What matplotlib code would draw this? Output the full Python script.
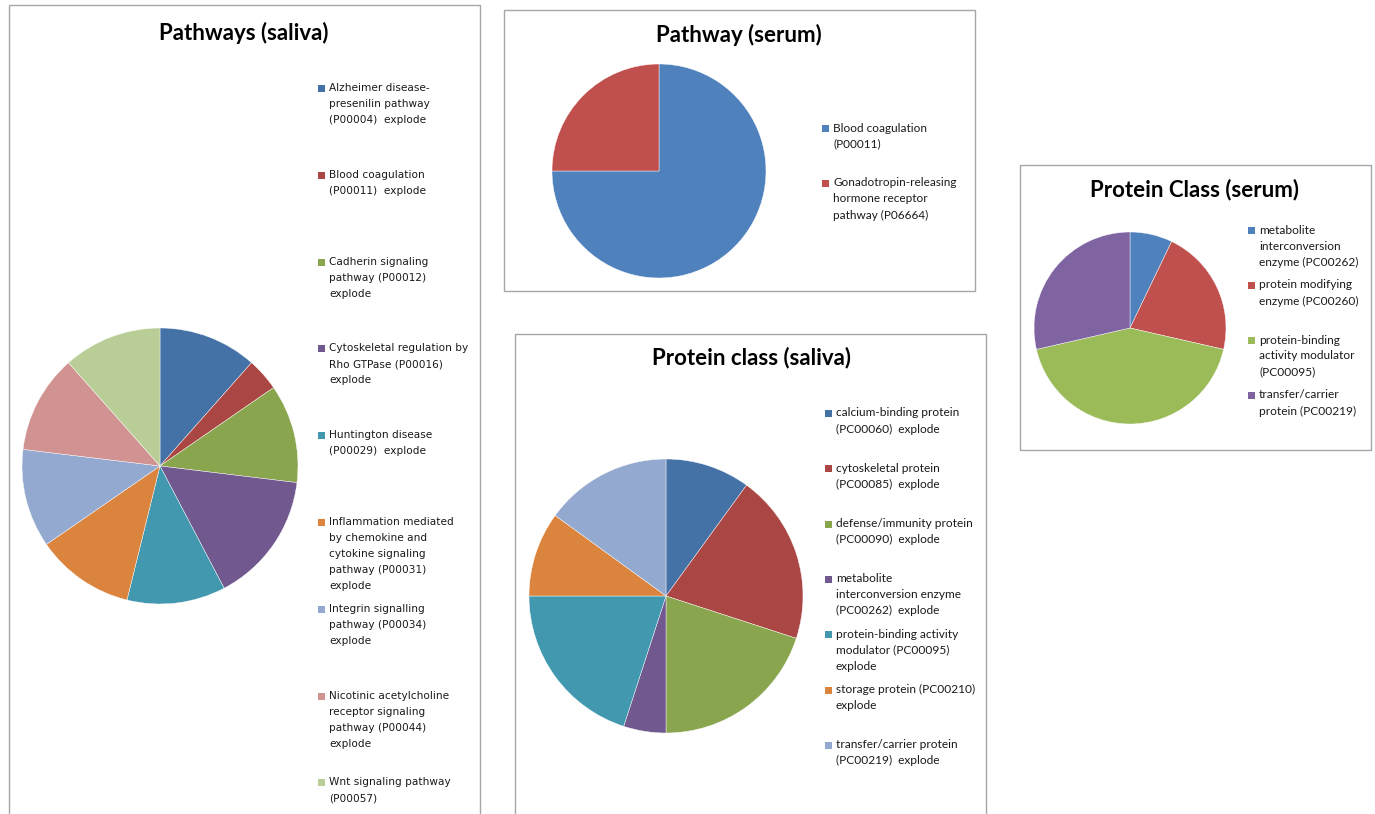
import matplotlib
matplotlib.use("Agg")
import matplotlib.pyplot as plt
from matplotlib.patches import Rectangle

W, H = 1375, 814

# Pathways (saliva)
pw_saliva_labels = [
    "Alzheimer disease-\npresenilin pathway\n(P00004)  explode",
    "Blood coagulation\n(P00011)  explode",
    "Cadherin signaling\npathway (P00012)\nexplode",
    "Cytoskeletal regulation by\nRho GTPase (P00016)\nexplode",
    "Huntington disease\n(P00029)  explode",
    "Inflammation mediated\nby chemokine and\ncytokine signaling\npathway (P00031)\nexplode",
    "Integrin signalling\npathway (P00034)\nexplode",
    "Nicotinic acetylcholine\nreceptor signaling\npathway (P00044)\nexplode",
    "Wnt signaling pathway\n(P00057)",
]
pw_saliva_values = [3, 1, 3, 4, 3, 3, 3, 3, 3]
pw_saliva_colors = ["#4471A6", "#AA4643", "#89A54E", "#71588F", "#4198AF",
                    "#DB843D", "#93A9CF", "#D19392", "#B9CD96"]

# Pathway (serum)
pw_serum_labels = [
    "Blood coagulation\n(P00011)",
    "Gonadotropin-releasing\nhormone receptor\npathway (P06664)",
]
pw_serum_values = [3, 1]
pw_serum_colors = ["#4F81BD", "#C0504D"]

# Protein class (saliva)
pc_saliva_labels = [
    "calcium-binding protein\n(PC00060)  explode",
    "cytoskeletal protein\n(PC00085)  explode",
    "defense/immunity protein\n(PC00090)  explode",
    "metabolite\ninterconversion enzyme\n(PC00262)  explode",
    "protein-binding activity\nmodulator (PC00095)\nexplode",
    "storage protein (PC00210)\nexplode",
    "transfer/carrier protein\n(PC00219)  explode",
]
pc_saliva_values = [2, 4, 4, 1, 4, 2, 3]
pc_saliva_colors = ["#4471A6", "#AA4643", "#89A54E", "#71588F", "#4198AF",
                    "#DB843D", "#93A9CF"]

# Protein Class (serum)
pc_serum_labels = [
    "metabolite\ninterconversion\nenzyme (PC00262)",
    "protein modifying\nenzyme (PC00260)",
    "protein-binding\nactivity modulator\n(PC00095)",
    "transfer/carrier\nprotein (PC00219)",
]
pc_serum_values = [1, 3, 6, 4]
pc_serum_colors = ["#4F81BD", "#C0504D", "#9BBB59", "#8064A2"]


def fx(x):
    return x / W


def fy(y):
    return 1 - y / H


fig = plt.figure(figsize=(W / 100, H / 100), dpi=100)
fig.patch.set_facecolor("white")


def box(x0, y0, x1, y1):
    fig.patches.append(Rectangle((fx(x0), fy(y1)), (x1 - x0) / W, (y1 - y0) / H,
                                 transform=fig.transFigure, fill=False,
                                 edgecolor="#A6A6A6", linewidth=1.0))


def pie(cx, cy, r, values, colors):
    ax = fig.add_axes([fx(cx - r), fy(cy + r), 2 * r / W, 2 * r / H])
    ax.pie(values, colors=colors, startangle=90, counterclock=False,
           radius=1, wedgeprops=dict(edgecolor="white", linewidth=0.3))
    ax.set_xlim(-1, 1)
    ax.set_ylim(-1, 1)
    ax.set_aspect("auto")
    ax.axis("off")


def legend(x_sq, y_top, step, line_h, labels, colors, family, size):
    for i, (lab, col) in enumerate(zip(labels, colors)):
        y = y_top + i * step
        fig.patches.append(Rectangle((fx(x_sq), fy(y + 4)), 7 / W, 7 / H,
                                     transform=fig.transFigure, facecolor=col,
                                     edgecolor="none"))
        for j, line in enumerate(lab.split("\n")):
            fig.text(fx(x_sq + 11), fy(y + j * line_h), line, family=family,
                     fontsize=size, ha="left", va="center", color="#1a1a1a")


# panel frames
box(9, 5, 480, 830)
box(504, 10, 975, 291)
box(515, 334, 986, 830)
box(1020, 165, 1371, 450)

# Pathways (saliva)
fig.text(fx(244), fy(33), "Pathways (saliva)", family="Lato",
         fontweight="bold", fontsize=16, ha="center", va="center")
pie(160, 466, 138, pw_saliva_values, pw_saliva_colors)
legend(318, 88, 86.8, 16, pw_saliva_labels, pw_saliva_colors, "DejaVu Sans", 7.6)

# Pathway (serum)
fig.text(fx(739), fy(35), "Pathway (serum)", family="Lato",
         fontweight="bold", fontsize=16, ha="center", va="center")
pie(659, 171, 107, pw_serum_values, pw_serum_colors)
legend(822, 128, 55, 16, pw_serum_labels, pw_serum_colors, "Lato", 8.5)

# Protein class (saliva)
fig.text(fx(751), fy(358), "Protein class (saliva)", family="Lato",
         fontweight="bold", fontsize=16, ha="center", va="center")
pie(666, 596, 137, pc_saliva_values, pc_saliva_colors)
legend(825, 413, 55.3, 16, pc_saliva_labels, pc_saliva_colors, "Lato", 8.6)

# Protein Class (serum)
fig.text(fx(1195), fy(190), "Protein Class (serum)", family="Lato",
         fontweight="bold", fontsize=16, ha="center", va="center")
pie(1130, 328, 96, pc_serum_values, pc_serum_colors)
legend(1248, 230, 55, 16, pc_serum_labels, pc_serum_colors, "Lato", 8.6)

fig.savefig("out.png", dpi=100)
